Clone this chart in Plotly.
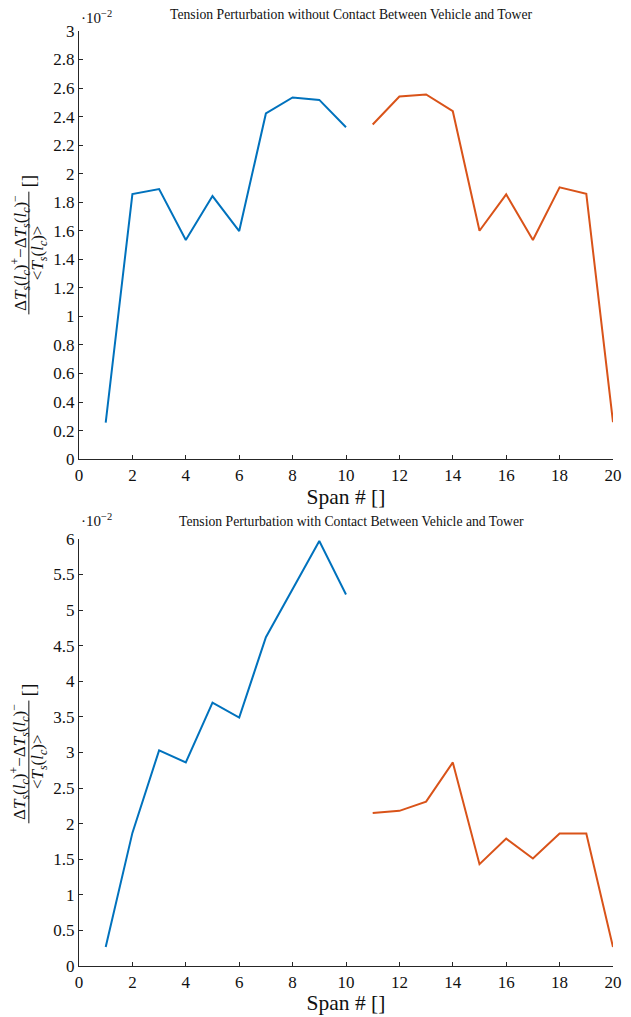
import plotly.graph_objects as go
from plotly.subplots import make_subplots

# ---- data (values in units of 1e-2) ----
span_left = [1, 2, 3, 4, 5, 6, 7, 8, 9, 10]
span_right = [11, 12, 13, 14, 15, 16, 17, 18, 19, 20]

no_contact_left = [0.256, 1.857, 1.892, 1.535, 1.843, 1.598, 2.422, 2.534, 2.517, 2.326]
no_contact_right = [2.345, 2.541, 2.555, 2.438, 1.600, 1.855, 1.535, 1.904, 1.859, 0.259]

contact_left = [0.266, 1.87, 3.03, 2.86, 3.70, 3.49, 4.62, 5.29, 5.97, 5.22]
contact_right = [2.15, 2.18, 2.31, 2.86, 1.43, 1.79, 1.51, 1.86, 1.86, 0.266]

titles = ["Tension Perturbation without Contact Between Vehicle and Tower",
          "Tension Perturbation with Contact Between Vehicle and Tower"]
x_ticks = list(range(0, 21, 2))
y_ticks_top = [round(0.2 * i, 1) for i in range(16)]
y_ticks_bot = [0.5 * i for i in range(13)]

BLUE = "#0072BD"
ORANGE = "#D95319"
AX = "#262626"
FONT = "Liberation Serif"

# page body has an 8px margin: figure canvas starts at (8, 8)
W, H = 623, 1009
L, R, T, B = 71, 9, 23, 49
PW = W - L - R
PH = H - T - B


def px_x(px):
    # px measured in window pixels
    return (px - 8 - L) / PW


def px_y(py):
    return (H - B - (py - 8)) / PH


fig = make_subplots(rows=2, cols=1)
fig.update_layout(
    yaxis=dict(domain=[px_y(460), 1.0]),
    yaxis2=dict(domain=[0.0, px_y(540)]),
)

fig.add_trace(go.Scatter(x=span_left, y=no_contact_left, mode="lines",
                         line=dict(color=BLUE, width=2)), row=1, col=1)
fig.add_trace(go.Scatter(x=span_right, y=no_contact_right, mode="lines",
                         line=dict(color=ORANGE, width=2)), row=1, col=1)
fig.add_trace(go.Scatter(x=span_left, y=contact_left, mode="lines",
                         line=dict(color=BLUE, width=2)), row=2, col=1)
fig.add_trace(go.Scatter(x=span_right, y=contact_right, mode="lines",
                         line=dict(color=ORANGE, width=2)), row=2, col=1)

axis_common = dict(showgrid=False, zeroline=False, showline=True, linecolor=AX,
                   linewidth=1.2, ticks="inside", ticklen=4, tickcolor=AX,
                   tickwidth=1, tickfont=dict(family=FONT, size=17, color="#111"),
                   mirror=False)

for r in (1, 2):
    fig.update_xaxes(range=[0, 20], tickvals=x_ticks, row=r, col=1,
                     title=dict(text="Span # []", font=dict(family=FONT, size=21.5, color="#111"),
                                standoff=1),
                     **axis_common)
fig.update_yaxes(range=[0, 3], tickvals=y_ticks_top, row=1, col=1, **axis_common)
fig.update_yaxes(range=[0, 6], tickvals=y_ticks_bot, row=2, col=1, **axis_common)

num = ("Δ<i>T<sub>s</sub></i>(<i>l<sub>c</sub></i>)<sup>+</sup>"
       "−Δ<i>T<sub>s</sub></i>(<i>l<sub>c</sub></i>)<sup>−</sup>")
den = "&lt;<i>T<sub>s</sub></i>(<i>l<sub>c</sub></i>)&gt;"

annotations = []
shapes = []
for title, ty, bar_top, bar_bot, br_y, sc_y in [
        (titles[0], 14, 192, 315, 181, 17),
        (titles[1], 523, 702, 825, 691, 521)]:
    annotations.append(dict(text=title, xref="paper", yref="paper",
                            x=px_x(356), y=px_y(ty), xanchor="center", yanchor="middle",
                            showarrow=False, font=dict(family=FONT, size=13.7, color="#111")))
    annotations.append(dict(text="·10<sup>−2</sup>", xref="paper", yref="paper",
                            x=px_x(97), y=px_y(sc_y), xanchor="center", yanchor="middle",
                            showarrow=False, font=dict(family=FONT, size=15, color="#111")))
    mid = (bar_top + bar_bot) / 2
    annotations.append(dict(text=num, xref="paper", yref="paper", textangle=-90,
                            x=px_x(19), y=px_y(mid), xanchor="center", yanchor="middle",
                            showarrow=False, font=dict(family=FONT, size=17, color="#111")))
    annotations.append(dict(text=den, xref="paper", yref="paper", textangle=-90,
                            x=px_x(38.5), y=px_y(mid), xanchor="center", yanchor="middle",
                            showarrow=False, font=dict(family=FONT, size=17, color="#111")))
    annotations.append(dict(text="[]", xref="paper", yref="paper", textangle=-90,
                            x=px_x(28), y=px_y(br_y), xanchor="center", yanchor="middle",
                            showarrow=False, font=dict(family=FONT, size=19, color="#111")))
    shapes.append(dict(type="line", xref="paper", yref="paper",
                       x0=px_x(28), x1=px_x(28), y0=px_y(bar_top), y1=px_y(bar_bot),
                       line=dict(color="#111", width=1)))

fig.update_layout(
    width=W, height=H, margin=dict(l=L, r=R, t=T, b=B),
    paper_bgcolor="white", plot_bgcolor="white", showlegend=False,
    annotations=annotations, shapes=shapes,
    font=dict(family=FONT),
)

fig.write_html("out.html")
